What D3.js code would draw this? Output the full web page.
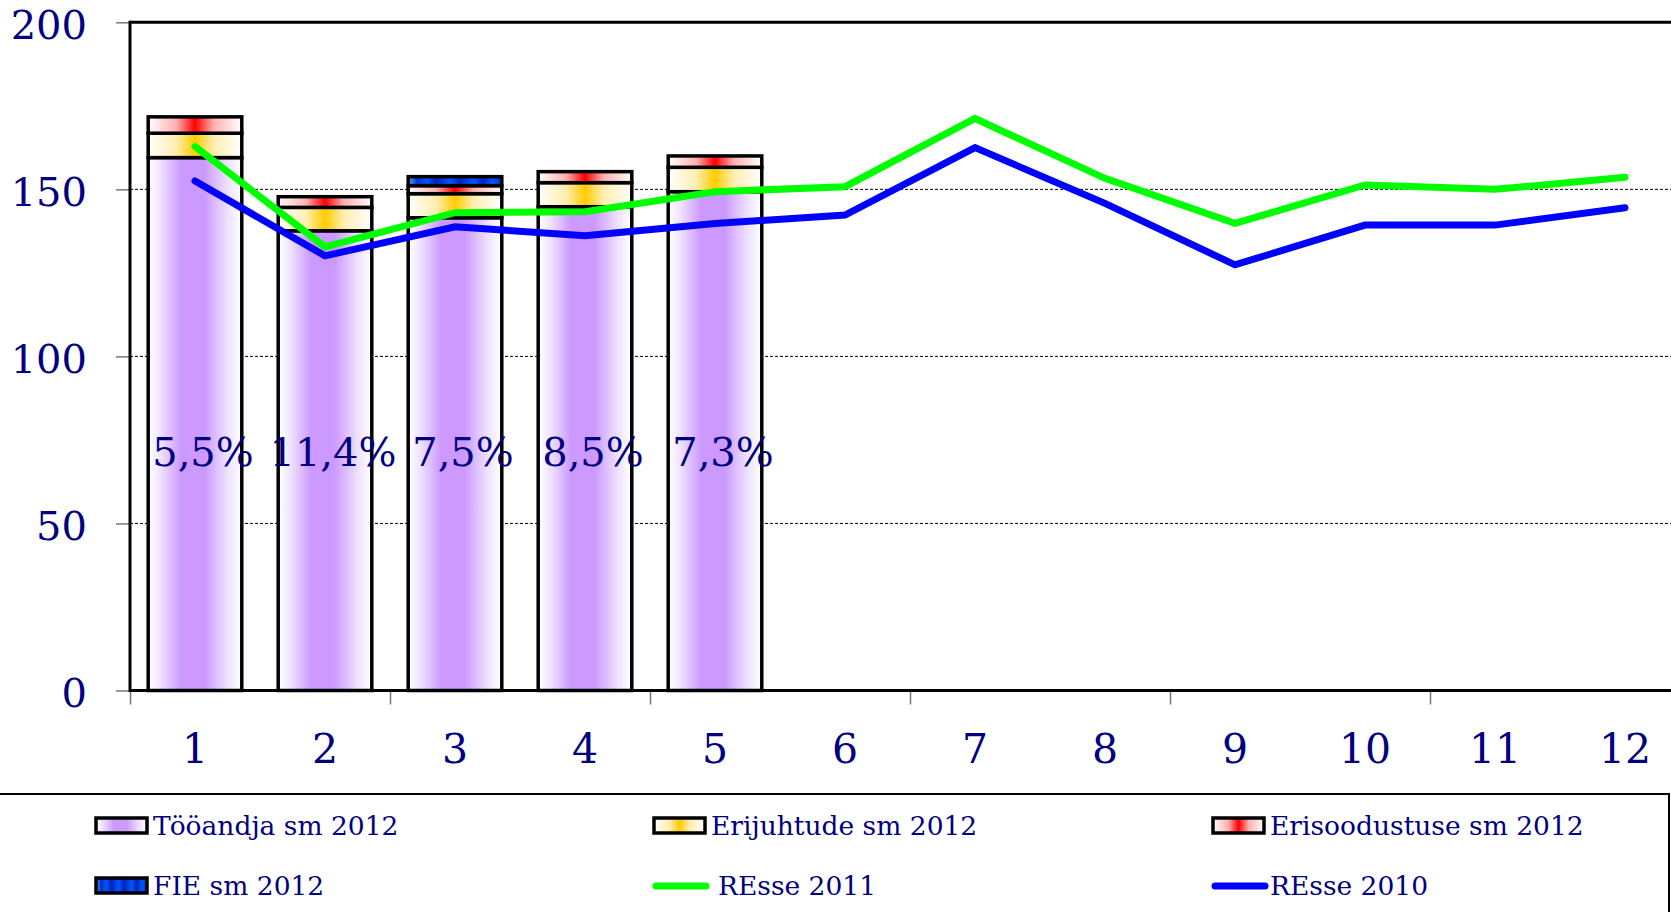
<!DOCTYPE html>
<html>
<head>
<meta charset="utf-8">
<script src="https://cdn.jsdelivr.net/npm/d3@7/dist/d3.min.js"></script>
<style>
  html, body { margin: 0; padding: 0; background: #fff; overflow: hidden; }
  svg { display: block; }
</style>
</head>
<body>
<svg id="chart" width="1671" height="912"></svg>
<script>
// ---------------- data ----------------
const months = [1, 2, 3, 4, 5, 6, 7, 8, 9, 10, 11, 12];
const barMonths = [1, 2, 3, 4, 5];
const tooandja2012 = [159.5, 137.6, 141.5, 144.8, 149.3];
const erijuhtude2012 = [7.3, 7.0, 7.2, 7.2, 7.3];
const erisoodustuse2012 = [4.9, 3.2, 2.4, 3.3, 3.4];
const fie2012 = [0, 0, 2.7, 0, 0];
const resse2011 = [162.8, 132.8, 143.0, 143.3, 149.3, 150.8, 171.2, 153.3, 139.8, 151.3, 150.0, 153.6];
const resse2010 = [152.5, 130.1, 138.8, 136.1, 139.8, 142.3, 162.5, 145.8, 127.4, 139.3, 139.3, 144.5];
const pctLabels = ["5,5%", "11,4%", "7,5%", "8,5%", "7,3%"];
const yTicks = [0, 50, 100, 150, 200];
const seriesNames = ["Tööandja sm 2012", "Erijuhtude sm 2012", "Erisoodustuse sm 2012", "FIE sm 2012", "REsse 2011", "REsse 2010"];

// ---------------- setup ----------------
const svg = d3.select("#chart");
const navy = "#000080";
const serif = "'DejaVu Serif', 'Liberation Serif', serif";

const plotLeft = 130, plotTop = 22.3, plotBottom = 690.5, plotRightFull = 1690;
const x = d3.scaleBand().domain(months).range([plotLeft, plotRightFull]).paddingInner(0.28).paddingOuter(0.14);
const xEdge = d3.scaleLinear().domain([0, 12]).range([plotLeft, plotRightFull]);
const y = d3.scaleLinear().domain([0, 200]).range([plotBottom, plotTop]);

// gradients
const defs = svg.append("defs");
function grad(id, stops) {
  const g = defs.append("linearGradient").attr("id", id).attr("x1", 0).attr("x2", 1).attr("y1", 0).attr("y2", 0);
  stops.forEach(s => g.append("stop").attr("offset", s[0]).attr("stop-color", s[1]));
}
grad("gPurple", [[0, "#ffffff"], [0.12, "#f0e6ff"], [0.35, "#cc99ff"], [0.6, "#cc99ff"], [0.85, "#eee2ff"], [1, "#ffffff"]]);
grad("gOrange", [[0, "#ffffff"], [0.3, "#ffeeb0"], [0.5, "#ffcc00"], [0.7, "#ffeeb0"], [1, "#ffffff"]]);
grad("gRed", [[0, "#ffffff"], [0.3, "#ffb0b0"], [0.5, "#ff0000"], [0.7, "#ffb0b0"], [1, "#ffffff"]]);
grad("gBlue", [[0, "#6699ff"], [0.1, "#0033cc"], [0.2, "#0055ff"], [0.3, "#0022bb"], [0.45, "#0055ff"], [0.55, "#0022bb"], [0.7, "#0055ff"], [0.8, "#0022bb"], [0.9, "#0055ff"], [1, "#0033cc"]]);
const fills = ["url(#gPurple)", "url(#gOrange)", "url(#gRed)", "url(#gBlue)"];

// gridlines
svg.append("g").selectAll("line").data(yTicks.filter(t => t > 0 && t < 200)).join("line")
  .attr("x1", plotLeft).attr("x2", 1671)
  .attr("y1", d => y(d)).attr("y2", d => y(d))
  .attr("stroke", "#000").attr("stroke-width", 1).attr("stroke-dasharray", "3,2");

// y axis
const yAxis = d3.axisLeft(y).tickValues(yTicks).tickSize(14).tickPadding(29).tickFormat(d3.format("d"));
const gy = svg.append("g").attr("transform", `translate(${plotLeft},0)`).call(yAxis);
gy.select(".domain").remove();
gy.selectAll(".tick line").attr("stroke", "#777").attr("stroke-width", 1.5);
gy.selectAll(".tick text").attr("fill", navy).attr("font-family", serif).attr("font-size", 40).attr("dy", "0.40em");

// x axis: boundary ticks every two months
const xAxisEdges = d3.axisBottom(xEdge).tickValues([0, 2, 4, 6, 8, 10]).tickSize(14).tickFormat("");
const gxe = svg.append("g").attr("transform", `translate(0,${plotBottom})`).call(xAxisEdges);
gxe.select(".domain").remove();
gxe.selectAll(".tick line").attr("stroke", "#777").attr("stroke-width", 1.5);

const xAxisLabels = d3.axisBottom(x).tickSize(0).tickPadding(43);
const gx = svg.append("g").attr("transform", `translate(0,${plotBottom})`).call(xAxisLabels);
gx.select(".domain").remove();
gx.selectAll(".tick text").attr("fill", navy).attr("font-family", serif).attr("font-size", 41);

// stacked bars
const barRows = barMonths.map((m, i) => ({
  month: m, a: tooandja2012[i], b: erijuhtude2012[i], c: erisoodustuse2012[i], d: fie2012[i]
}));
const keys = ["a", "b", "c", "d"];
const stacked = d3.stack().keys(keys)(barRows);
const gBars = svg.append("g");
stacked.forEach((layer, li) => {
  gBars.append("g").selectAll("rect")
    .data(layer.filter(d => d[1] - d[0] > 0))
    .join("rect")
    .attr("x", d => x(d.data.month))
    .attr("width", x.bandwidth())
    .attr("y", d => y(d[1]))
    .attr("height", d => y(d[0]) - y(d[1]))
    .attr("fill", fills[li])
    .attr("stroke", "#000")
    .attr("stroke-width", 3.5);
});

// plot frame lines
svg.append("line").attr("x1", plotLeft).attr("x2", 1671).attr("y1", plotTop).attr("y2", plotTop).attr("stroke", "#000").attr("stroke-width", 3);
svg.append("line").attr("x1", plotLeft).attr("x2", plotLeft).attr("y1", plotTop - 1.5).attr("y2", plotBottom + 1.5).attr("stroke", "#000").attr("stroke-width", 3);
svg.append("line").attr("x1", plotLeft).attr("x2", 1671).attr("y1", plotBottom).attr("y2", plotBottom).attr("stroke", "#000").attr("stroke-width", 3);

// lines
const line = d3.line().x((d, i) => x(months[i]) + x.bandwidth() / 2).y(d => y(d));
svg.append("path").datum(resse2010).attr("d", line).attr("fill", "none")
  .attr("stroke", "#0000ff").attr("stroke-width", 7).attr("stroke-linejoin", "miter").attr("stroke-linecap", "round");
svg.append("path").datum(resse2011).attr("d", line).attr("fill", "none")
  .attr("stroke", "#00ff00").attr("stroke-width", 7).attr("stroke-linejoin", "miter").attr("stroke-linecap", "round");

// percentage labels
svg.append("g").selectAll("text").data(pctLabels).join("text")
  .attr("x", (d, i) => x(barMonths[i]) + x.bandwidth() / 2 + 8)
  .attr("y", 466)
  .attr("text-anchor", "middle")
  .attr("fill", navy).attr("font-family", serif).attr("font-size", 40)
  .text(d => d);

// legend
svg.append("rect").attr("x", -2).attr("y", 794).attr("width", 1671).attr("height", 140)
  .attr("fill", "#fff").attr("stroke", "#000").attr("stroke-width", 2);
const legendCols = [96, 654, 1213];
const legendRows = [826, 886];
const legendItems = seriesNames.map((name, i) => ({
  name,
  col: i % 3,
  row: Math.floor(i / 3),
  type: i < 4 ? "bar" : "line",
  fill: i < 4 ? fills[i] : null,
  color: i === 4 ? "#00ff00" : (i === 5 ? "#0000ff" : null)
}));
const lg = svg.append("g").selectAll("g").data(legendItems).join("g")
  .attr("transform", d => `translate(${legendCols[d.col]},${legendRows[d.row]})`);
lg.filter(d => d.type === "bar").append("rect")
  .attr("x", 0).attr("y", -8).attr("width", 51).attr("height", 15)
  .attr("fill", d => d.fill).attr("stroke", "#000").attr("stroke-width", 3.5);
lg.filter(d => d.type === "line").append("line")
  .attr("x1", 2).attr("x2", 52).attr("y1", 0).attr("y2", 0)
  .attr("stroke", d => d.color).attr("stroke-width", 7).attr("stroke-linecap", "round");
lg.append("text")
  .attr("x", d => d.type === "line" && d.col === 1 ? 64 : 57)
  .attr("y", 9)
  .attr("fill", navy).attr("font-family", serif).attr("font-size", 26.5)
  .text(d => d.name);
</script>
</body>
</html>
